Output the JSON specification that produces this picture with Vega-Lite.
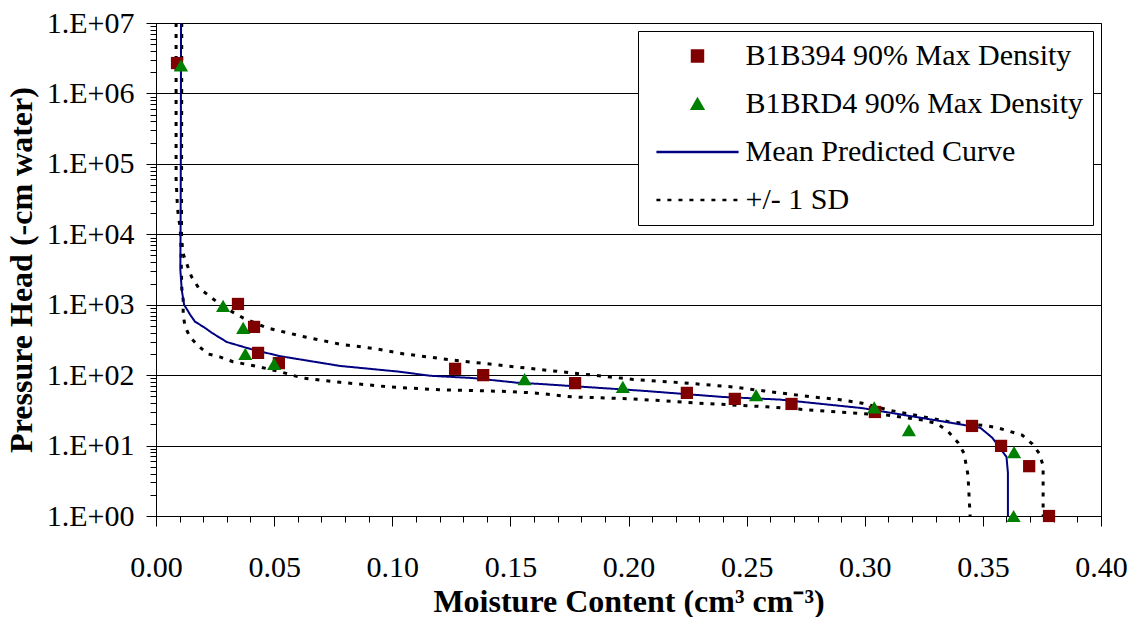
{
  "$schema": "https://vega.github.io/schema/vega-lite/v6.json",
  "width": 945,
  "height": 493,
  "autosize": {"type": "none"},
  "padding": {"left": 156, "top": 23, "right": 32, "bottom": 101},
  "background": "white",
  "config": {
    "view": {"stroke": "black", "strokeWidth": 1},
    "font": "Liberation Serif",
    "axis": {
      "labelFont": "Liberation Serif",
      "titleFont": "Liberation Serif",
      "labelColor": "black",
      "titleColor": "black",
      "domainColor": "black",
      "tickColor": "black",
      "labelFontSize": 30,
      "titleFontSize": 32,
      "titleFontWeight": "bold",
      "labelOverlap": false,
      "labelFlush": false,
      "labelBound": false,
      "grid": false
    }
  },
  "datasets": {
    "obs": [
      {"series": "B1B394 90% Max Density", "theta": 0.0089, "h": 2700000},
      {"series": "B1B394 90% Max Density", "theta": 0.0347, "h": 1025},
      {"series": "B1B394 90% Max Density", "theta": 0.0415, "h": 484},
      {"series": "B1B394 90% Max Density", "theta": 0.0432, "h": 207},
      {"series": "B1B394 90% Max Density", "theta": 0.052, "h": 148},
      {"series": "B1B394 90% Max Density", "theta": 0.1266, "h": 123},
      {"series": "B1B394 90% Max Density", "theta": 0.1385, "h": 100},
      {"series": "B1B394 90% Max Density", "theta": 0.1774, "h": 77},
      {"series": "B1B394 90% Max Density", "theta": 0.2247, "h": 56},
      {"series": "B1B394 90% Max Density", "theta": 0.245, "h": 46},
      {"series": "B1B394 90% Max Density", "theta": 0.269, "h": 39},
      {"series": "B1B394 90% Max Density", "theta": 0.3043, "h": 30},
      {"series": "B1B394 90% Max Density", "theta": 0.3454, "h": 19},
      {"series": "B1B394 90% Max Density", "theta": 0.3577, "h": 9.9},
      {"series": "B1B394 90% Max Density", "theta": 0.3696, "h": 5.1},
      {"series": "B1B394 90% Max Density", "theta": 0.378, "h": 1.0},
      {"series": "B1BRD4 90% Max Density", "theta": 0.0106, "h": 2500000},
      {"series": "B1BRD4 90% Max Density", "theta": 0.0284, "h": 960},
      {"series": "B1BRD4 90% Max Density", "theta": 0.0369, "h": 470},
      {"series": "B1BRD4 90% Max Density", "theta": 0.0378, "h": 200},
      {"series": "B1BRD4 90% Max Density", "theta": 0.05, "h": 144},
      {"series": "B1BRD4 90% Max Density", "theta": 0.156, "h": 88},
      {"series": "B1BRD4 90% Max Density", "theta": 0.1976, "h": 68},
      {"series": "B1BRD4 90% Max Density", "theta": 0.254, "h": 52},
      {"series": "B1BRD4 90% Max Density", "theta": 0.304, "h": 35},
      {"series": "B1BRD4 90% Max Density", "theta": 0.3187, "h": 16.6},
      {"series": "B1BRD4 90% Max Density", "theta": 0.3632, "h": 8.1},
      {"series": "B1BRD4 90% Max Density", "theta": 0.363, "h": 1.0}
    ],
    "curves": [
      {"series": "Mean Predicted Curve", "curve": "mean", "theta": 0.0106, "h": 10000000},
      {"series": "Mean Predicted Curve", "curve": "mean", "theta": 0.0105, "h": 100000},
      {"series": "Mean Predicted Curve", "curve": "mean", "theta": 0.0104, "h": 10000},
      {"series": "Mean Predicted Curve", "curve": "mean", "theta": 0.0103, "h": 3160},
      {"series": "Mean Predicted Curve", "curve": "mean", "theta": 0.0109, "h": 1620},
      {"series": "Mean Predicted Curve", "curve": "mean", "theta": 0.0119, "h": 1000},
      {"series": "Mean Predicted Curve", "curve": "mean", "theta": 0.0132, "h": 850},
      {"series": "Mean Predicted Curve", "curve": "mean", "theta": 0.0144, "h": 725},
      {"series": "Mean Predicted Curve", "curve": "mean", "theta": 0.0165, "h": 575},
      {"series": "Mean Predicted Curve", "curve": "mean", "theta": 0.0207, "h": 470},
      {"series": "Mean Predicted Curve", "curve": "mean", "theta": 0.0236, "h": 400},
      {"series": "Mean Predicted Curve", "curve": "mean", "theta": 0.03, "h": 295},
      {"series": "Mean Predicted Curve", "curve": "mean", "theta": 0.041, "h": 230},
      {"series": "Mean Predicted Curve", "curve": "mean", "theta": 0.0525, "h": 186},
      {"series": "Mean Predicted Curve", "curve": "mean", "theta": 0.078, "h": 135},
      {"series": "Mean Predicted Curve", "curve": "mean", "theta": 0.103, "h": 112},
      {"series": "Mean Predicted Curve", "curve": "mean", "theta": 0.116, "h": 98},
      {"series": "Mean Predicted Curve", "curve": "mean", "theta": 0.134, "h": 91},
      {"series": "Mean Predicted Curve", "curve": "mean", "theta": 0.153, "h": 78},
      {"series": "Mean Predicted Curve", "curve": "mean", "theta": 0.1625, "h": 75},
      {"series": "Mean Predicted Curve", "curve": "mean", "theta": 0.206, "h": 60},
      {"series": "Mean Predicted Curve", "curve": "mean", "theta": 0.24, "h": 49},
      {"series": "Mean Predicted Curve", "curve": "mean", "theta": 0.264, "h": 45},
      {"series": "Mean Predicted Curve", "curve": "mean", "theta": 0.2726, "h": 42},
      {"series": "Mean Predicted Curve", "curve": "mean", "theta": 0.299, "h": 34},
      {"series": "Mean Predicted Curve", "curve": "mean", "theta": 0.339, "h": 20.4},
      {"series": "Mean Predicted Curve", "curve": "mean", "theta": 0.349, "h": 17.8},
      {"series": "Mean Predicted Curve", "curve": "mean", "theta": 0.354, "h": 12.9},
      {"series": "Mean Predicted Curve", "curve": "mean", "theta": 0.36, "h": 6.9},
      {"series": "Mean Predicted Curve", "curve": "mean", "theta": 0.3606, "h": 4.1},
      {"series": "Mean Predicted Curve", "curve": "mean", "theta": 0.3606, "h": 1},
      {"series": "+/- 1 SD", "curve": "upper", "theta": 0.0109, "h": 10000000},
      {"series": "+/- 1 SD", "curve": "upper", "theta": 0.0108, "h": 10000},
      {"series": "+/- 1 SD", "curve": "upper", "theta": 0.0113, "h": 5500},
      {"series": "+/- 1 SD", "curve": "upper", "theta": 0.015, "h": 2510},
      {"series": "+/- 1 SD", "curve": "upper", "theta": 0.018, "h": 1740},
      {"series": "+/- 1 SD", "curve": "upper", "theta": 0.022, "h": 1380},
      {"series": "+/- 1 SD", "curve": "upper", "theta": 0.028, "h": 955},
      {"series": "+/- 1 SD", "curve": "upper", "theta": 0.037, "h": 645},
      {"series": "+/- 1 SD", "curve": "upper", "theta": 0.047, "h": 468},
      {"series": "+/- 1 SD", "curve": "upper", "theta": 0.062, "h": 355},
      {"series": "+/- 1 SD", "curve": "upper", "theta": 0.078, "h": 275},
      {"series": "+/- 1 SD", "curve": "upper", "theta": 0.092, "h": 240},
      {"series": "+/- 1 SD", "curve": "upper", "theta": 0.105, "h": 200},
      {"series": "+/- 1 SD", "curve": "upper", "theta": 0.124, "h": 166},
      {"series": "+/- 1 SD", "curve": "upper", "theta": 0.146, "h": 138},
      {"series": "+/- 1 SD", "curve": "upper", "theta": 0.1766, "h": 107},
      {"series": "+/- 1 SD", "curve": "upper", "theta": 0.202, "h": 87},
      {"series": "+/- 1 SD", "curve": "upper", "theta": 0.223, "h": 78},
      {"series": "+/- 1 SD", "curve": "upper", "theta": 0.244, "h": 68},
      {"series": "+/- 1 SD", "curve": "upper", "theta": 0.264, "h": 56},
      {"series": "+/- 1 SD", "curve": "upper", "theta": 0.278, "h": 49},
      {"series": "+/- 1 SD", "curve": "upper", "theta": 0.289, "h": 45},
      {"series": "+/- 1 SD", "curve": "upper", "theta": 0.299, "h": 40},
      {"series": "+/- 1 SD", "curve": "upper", "theta": 0.31, "h": 32},
      {"series": "+/- 1 SD", "curve": "upper", "theta": 0.335, "h": 22},
      {"series": "+/- 1 SD", "curve": "upper", "theta": 0.352, "h": 19},
      {"series": "+/- 1 SD", "curve": "upper", "theta": 0.3565, "h": 17.8},
      {"series": "+/- 1 SD", "curve": "upper", "theta": 0.3666, "h": 14.1},
      {"series": "+/- 1 SD", "curve": "upper", "theta": 0.371, "h": 10.5},
      {"series": "+/- 1 SD", "curve": "upper", "theta": 0.3738, "h": 7.8},
      {"series": "+/- 1 SD", "curve": "upper", "theta": 0.3755, "h": 5.2},
      {"series": "+/- 1 SD", "curve": "upper", "theta": 0.3755, "h": 1},
      {"series": "+/- 1 SD", "curve": "lower", "theta": 0.0085, "h": 10000000},
      {"series": "+/- 1 SD", "curve": "lower", "theta": 0.0085, "h": 62000},
      {"series": "+/- 1 SD", "curve": "lower", "theta": 0.009, "h": 28000},
      {"series": "+/- 1 SD", "curve": "lower", "theta": 0.0094, "h": 18600},
      {"series": "+/- 1 SD", "curve": "lower", "theta": 0.0102, "h": 12600},
      {"series": "+/- 1 SD", "curve": "lower", "theta": 0.0105, "h": 7900},
      {"series": "+/- 1 SD", "curve": "lower", "theta": 0.0109, "h": 1740},
      {"series": "+/- 1 SD", "curve": "lower", "theta": 0.0115, "h": 1175},
      {"series": "+/- 1 SD", "curve": "lower", "theta": 0.0115, "h": 760},
      {"series": "+/- 1 SD", "curve": "lower", "theta": 0.0122, "h": 500},
      {"series": "+/- 1 SD", "curve": "lower", "theta": 0.0144, "h": 347},
      {"series": "+/- 1 SD", "curve": "lower", "theta": 0.0178, "h": 263},
      {"series": "+/- 1 SD", "curve": "lower", "theta": 0.022, "h": 200},
      {"series": "+/- 1 SD", "curve": "lower", "theta": 0.027, "h": 182},
      {"series": "+/- 1 SD", "curve": "lower", "theta": 0.0326, "h": 155},
      {"series": "+/- 1 SD", "curve": "lower", "theta": 0.042, "h": 135},
      {"series": "+/- 1 SD", "curve": "lower", "theta": 0.0525, "h": 112},
      {"series": "+/- 1 SD", "curve": "lower", "theta": 0.062, "h": 91},
      {"series": "+/- 1 SD", "curve": "lower", "theta": 0.078, "h": 79},
      {"series": "+/- 1 SD", "curve": "lower", "theta": 0.099, "h": 68},
      {"series": "+/- 1 SD", "curve": "lower", "theta": 0.12, "h": 62},
      {"series": "+/- 1 SD", "curve": "lower", "theta": 0.146, "h": 59},
      {"series": "+/- 1 SD", "curve": "lower", "theta": 0.16, "h": 56},
      {"series": "+/- 1 SD", "curve": "lower", "theta": 0.1766, "h": 49},
      {"series": "+/- 1 SD", "curve": "lower", "theta": 0.202, "h": 46},
      {"series": "+/- 1 SD", "curve": "lower", "theta": 0.23, "h": 40},
      {"series": "+/- 1 SD", "curve": "lower", "theta": 0.2586, "h": 35.5},
      {"series": "+/- 1 SD", "curve": "lower", "theta": 0.2946, "h": 29},
      {"series": "+/- 1 SD", "curve": "lower", "theta": 0.31, "h": 27},
      {"series": "+/- 1 SD", "curve": "lower", "theta": 0.3247, "h": 23},
      {"series": "+/- 1 SD", "curve": "lower", "theta": 0.3306, "h": 20.4},
      {"series": "+/- 1 SD", "curve": "lower", "theta": 0.335, "h": 16.2},
      {"series": "+/- 1 SD", "curve": "lower", "theta": 0.3395, "h": 11},
      {"series": "+/- 1 SD", "curve": "lower", "theta": 0.342, "h": 7.8},
      {"series": "+/- 1 SD", "curve": "lower", "theta": 0.3437, "h": 3.8},
      {"series": "+/- 1 SD", "curve": "lower", "theta": 0.3446, "h": 1}
    ]
  },
  "encoding": {
    "x": {
      "field": "theta",
      "type": "quantitative",
      "title": "Moisture Content (cm³ cm⁻³)",
      "scale": {"domain": [0, 0.4], "nice": false, "zero": false},
      "axis": {
        "values": [0, 0.01, 0.02, 0.03, 0.04, 0.05, 0.06, 0.07, 0.08, 0.09, 0.1, 0.11, 0.12, 0.13, 0.14, 0.15, 0.16, 0.17, 0.18, 0.19, 0.2, 0.21, 0.22, 0.23, 0.24, 0.25, 0.26, 0.27, 0.28, 0.29, 0.3, 0.31, 0.32, 0.33, 0.34, 0.35, 0.36, 0.37, 0.38, 0.39, 0.4],
        "labelExpr": "round(datum.value * 100) % 5 == 0 ? format(datum.value, '.2f') : ''",
        "tickSize": {"condition": {"test": "round(datum.value * 100) % 5 == 0", "value": 10}, "value": 6},
        "labelPadding": 26,
        "titlePadding": 4
      }
    },
    "y": {
      "field": "h",
      "type": "quantitative",
      "title": "Pressure Head (-cm water)",
      "scale": {"type": "log", "domain": [1, 10000000], "nice": false},
      "axis": {
        "values": [1, 2, 3, 4, 5, 6, 7, 8, 9, 10, 20, 30, 40, 50, 60, 70, 80, 90, 100, 200, 300, 400, 500, 600, 700, 800, 900, 1000, 2000, 3000, 4000, 5000, 6000, 7000, 8000, 9000, 10000, 20000, 30000, 40000, 50000, 60000, 70000, 80000, 90000, 100000, 200000, 300000, 400000, 500000, 600000, 700000, 800000, 900000, 1000000, 2000000, 3000000, 4000000, 5000000, 6000000, 7000000, 8000000, 9000000, 10000000],
        "labelExpr": "abs(log(datum.value) / LN10 - round(log(datum.value) / LN10)) < 0.001 ? '1.E+0' + round(log(datum.value) / LN10) : ''",
        "tickSize": {"condition": {"test": "abs(log(datum.value) / LN10 - round(log(datum.value) / LN10)) < 0.001", "value": 10}, "value": 6},
        "grid": true,
        "gridColor": "black",
        "gridWidth": 1,
        "gridOpacity": {"condition": {"test": "abs(log(datum.value) / LN10 - round(log(datum.value) / LN10)) < 0.001", "value": 1}, "value": 0},
        "labelPadding": 12,
        "titlePadding": 8
      }
    },
    "color": {
      "field": "series",
      "type": "nominal",
      "scale": {
        "domain": ["B1B394 90% Max Density", "B1BRD4 90% Max Density", "Mean Predicted Curve", "+/- 1 SD"],
        "range": ["#800000", "#008000", "#000080", "#000000"]
      },
      "legend": {
        "title": null,
        "orient": "top-right",
        "offset": 8,
        "padding": 10,
        "strokeColor": "black",
        "fillColor": "white",
        "labelFont": "Liberation Serif",
        "labelFontSize": 30,
        "labelColor": "black",
        "labelLimit": 600,
        "symbolSize": 120,
        "symbolStrokeWidth": 2.5,
        "symbolOffset": 34.5,
        "labelOffset": 33,
        "rowPadding": 18,
        "encode": {
          "symbols": {
            "update": {
              "fill": {"scale": "color", "field": "value"},
              "stroke": {"scale": "color", "field": "value"},
              "shape": {"scale": "shape", "field": "value"},
              "strokeDash": {"scale": "strokeDash", "field": "value"},
              "opacity": {"value": 1}
            }
          }
        }
      }
    }
  },
  "layer": [
    {
      "data": {"name": "curves"},
      "transform": [{"filter": "datum.series == '+/- 1 SD'"}],
      "mark": {"type": "line", "strokeWidth": 3, "strokeCap": "butt"},
      "encoding": {
        "strokeDash": {
          "field": "series",
          "type": "nominal",
          "scale": {
            "domain": ["B1B394 90% Max Density", "B1BRD4 90% Max Density", "Mean Predicted Curve", "+/- 1 SD"],
            "range": [[1, 0], [1, 0], [1, 0], [4, 7]]
          },
          "legend": null
        },
        "detail": {"field": "curve", "type": "nominal"},
        "order": {"field": "h", "sort": "descending"}
      }
    },
    {
      "data": {"name": "curves"},
      "transform": [{"filter": "datum.series == 'Mean Predicted Curve'"}],
      "mark": {"type": "line", "strokeWidth": 2},
      "encoding": {
        "strokeDash": {
          "field": "series",
          "type": "nominal",
          "scale": {
            "domain": ["B1B394 90% Max Density", "B1BRD4 90% Max Density", "Mean Predicted Curve", "+/- 1 SD"],
            "range": [[1, 0], [1, 0], [1, 0], [4, 7]]
          },
          "legend": null
        },
        "detail": {"field": "curve", "type": "nominal"},
        "order": {"field": "h", "sort": "descending"}
      }
    },
    {
      "data": {"name": "obs"},
      "transform": [{"filter": "datum.series == 'B1B394 90% Max Density'"}],
      "mark": {"type": "point", "filled": true, "opacity": 1, "size": 150},
      "encoding": {
        "shape": {
          "field": "series",
          "type": "nominal",
          "scale": {
            "domain": ["B1B394 90% Max Density", "B1BRD4 90% Max Density", "Mean Predicted Curve", "+/- 1 SD"],
            "range": ["square", "triangle-up", "M-7.5,0H7.5", "M-7.5,0H7.5"]
          },
          "legend": null
        }
      }
    },
    {
      "data": {"name": "obs"},
      "transform": [{"filter": "datum.series == 'B1BRD4 90% Max Density'"}],
      "mark": {"type": "point", "filled": true, "opacity": 1, "size": 200},
      "encoding": {
        "shape": {
          "field": "series",
          "type": "nominal",
          "scale": {
            "domain": ["B1B394 90% Max Density", "B1BRD4 90% Max Density", "Mean Predicted Curve", "+/- 1 SD"],
            "range": ["square", "triangle-up", "M-7.5,0H7.5", "M-7.5,0H7.5"]
          },
          "legend": null
        }
      }
    }
  ]
}
